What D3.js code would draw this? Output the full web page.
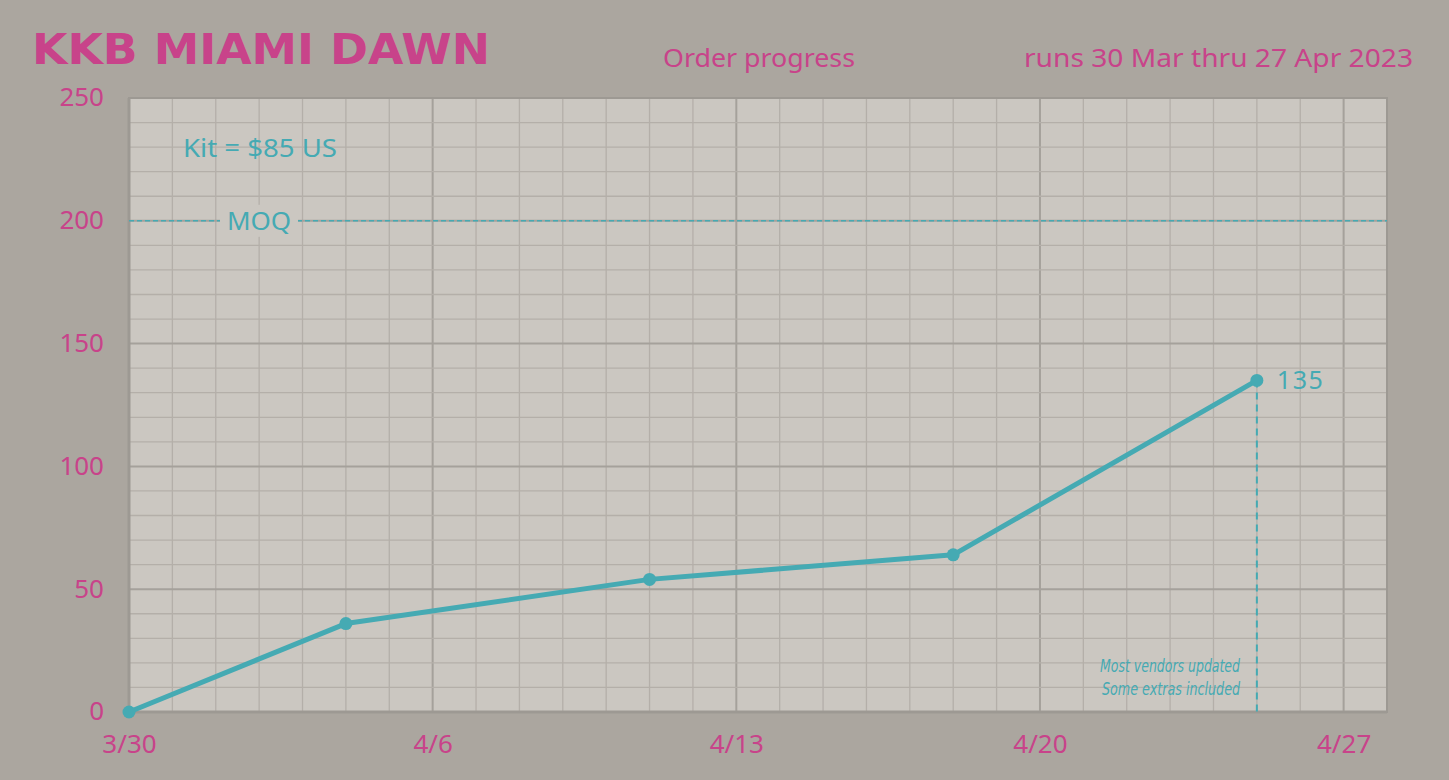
<!DOCTYPE html>
<html>
<head>
<meta charset="utf-8">
<script src="https://cdn.jsdelivr.net/npm/d3@7"></script>
<style>
  body { margin: 0; background: #aba69f; }
  svg { display: block; }
</style>
</head>
<body>
<svg width="1449" height="780"></svg>
<script>
// data
var dates = ["2023-03-30", "2023-04-04", "2023-04-11", "2023-04-18", "2023-04-25"];
var orders = [0, 36, 54, 64, 135];
var xTickDates = ["2023-03-30", "2023-04-06", "2023-04-13", "2023-04-20", "2023-04-27"];
var xTickLabels = ["3/30", "4/6", "4/13", "4/20", "4/27"];
var yTicks = [0, 50, 100, 150, 200, 250];
var moq = 200;

var pink = "#c8438a";
var teal = "#45aab3";
var plotBg = "#cbc7c1";

(function () {
  var svg = d3.select("svg");
  var parse = d3.timeParse("%Y-%m-%d");
  var data = dates.map(function (d, i) { return { date: parse(d), value: orders[i] }; });

  var pLeft = 129, pRight = 1387, pTop = 98, pBottom = 712;
  var start = parse("2023-03-30");

  var x = d3.scaleTime([start, parse("2023-04-28")], [pLeft, pRight]);
  var y = d3.scaleLinear([0, 250], [pBottom, pTop]);

  svg.append("rect").attr("width", 1449).attr("height", 780).attr("fill", "#aba69f");
  svg.append("rect")
    .attr("x", pLeft).attr("y", pTop)
    .attr("width", pRight - pLeft).attr("height", pBottom - pTop)
    .attr("fill", plotBg);

  // grid: minor daily / every 10, major weekly / every 50
  var days = d3.timeDay.range(parse("2023-03-31"), parse("2023-04-28"));
  function isWeek(d) { return d3.timeDay.count(start, d) % 7 === 0; }
  svg.append("g").selectAll("line").data(days).join("line")
    .attr("x1", function (d) { return x(d); }).attr("x2", function (d) { return x(d); })
    .attr("y1", pTop).attr("y2", pBottom)
    .attr("stroke", function (d) { return isWeek(d) ? "#a5a19b" : "#b4afa9"; })
    .attr("stroke-width", function (d) { return isWeek(d) ? 2 : 1.3; });

  svg.append("g").selectAll("line").data(d3.range(10, 250, 10)).join("line")
    .attr("x1", pLeft).attr("x2", pRight)
    .attr("y1", function (d) { return y(d); }).attr("y2", function (d) { return y(d); })
    .attr("stroke", function (d) { return d % 50 === 0 ? "#a5a19b" : "#b4afa9"; })
    .attr("stroke-width", function (d) { return d % 50 === 0 ? 2 : 1.3; });

  svg.append("rect")
    .attr("x", pLeft).attr("y", pTop)
    .attr("width", pRight - pLeft).attr("height", pBottom - pTop)
    .attr("fill", "none").attr("stroke", "#9d9993").attr("stroke-width", 2);
  svg.append("line").attr("x1", pLeft).attr("x2", pLeft).attr("y1", pTop).attr("y2", pBottom)
    .attr("stroke", "#9d9993").attr("stroke-width", 3);
  svg.append("line").attr("x1", pLeft).attr("x2", pRight).attr("y1", pBottom).attr("y2", pBottom)
    .attr("stroke", "#9d9993").attr("stroke-width", 3);

  // axes
  var yAxis = d3.axisLeft(y).tickValues(yTicks).tickSize(0).tickPadding(25);
  svg.append("g").attr("transform", "translate(" + pLeft + ",0)").call(yAxis)
    .call(function (g) { g.select(".domain").remove(); })
    .selectAll("text")
    .attr("fill", pink).attr("font-family", "'Noto Sans', sans-serif").attr("font-size", 26)
    .attr("dy", "0.3em");

  var xAxis = d3.axisBottom(x).tickValues(xTickDates.map(parse)).tickSize(0).tickPadding(23)
    .tickFormat(function (d, i) { return xTickLabels[i]; });
  svg.append("g").attr("transform", "translate(0," + pBottom + ")").call(xAxis)
    .call(function (g) { g.select(".domain").remove(); })
    .selectAll("text")
    .attr("fill", pink).attr("font-family", "'Noto Sans', sans-serif").attr("font-size", 26);

  // MOQ line
  svg.append("line")
    .attr("x1", pLeft).attr("x2", pRight).attr("y1", y(moq)).attr("y2", y(moq))
    .attr("stroke", teal).attr("stroke-width", 1.5).attr("stroke-dasharray", "5,3");
  svg.append("rect").attr("x", 220).attr("y", y(moq) - 16).attr("width", 78).attr("height", 32).attr("fill", plotBg);
  svg.append("text").attr("x", 259).attr("y", y(moq) + 9).attr("text-anchor", "middle")
    .attr("fill", teal).attr("font-family", "'Noto Sans', sans-serif").attr("font-size", 26)
    .text("MOQ");

  // last point drop line
  var last = data[data.length - 1];
  svg.append("line")
    .attr("x1", x(last.date)).attr("x2", x(last.date)).attr("y1", y(last.value)).attr("y2", pBottom)
    .attr("stroke", teal).attr("stroke-width", 2).attr("stroke-dasharray", "7,5");

  // series
  var line = d3.line().x(function (d) { return x(d.date); }).y(function (d) { return y(d.value); });
  svg.append("path").datum(data).attr("d", line)
    .attr("fill", "none").attr("stroke", teal).attr("stroke-width", 5).attr("stroke-linejoin", "round");
  svg.append("g").selectAll("circle").data(data).join("circle")
    .attr("cx", function (d) { return x(d.date); }).attr("cy", function (d) { return y(d.value); })
    .attr("r", 6.5).attr("fill", teal);

  svg.append("text").attr("x", x(last.date) + 20).attr("y", y(last.value) + 9)
    .attr("fill", teal).attr("font-family", "'Noto Sans', sans-serif").attr("font-size", 25)
    .attr("textLength", 46)
    .text(last.value);

  // notes
  svg.append("text").attr("x", 183).attr("y", 157)
    .attr("fill", teal).attr("font-family", "'Noto Sans', sans-serif").attr("font-size", 25)
    .attr("textLength", 154).attr("lengthAdjust", "spacingAndGlyphs")
    .text("Kit = $85 US");

  var notes = ["Most vendors updated", "Some extras included"];
  svg.append("g").selectAll("text").data(notes).join("text")
    .attr("x", 1240).attr("y", function (d, i) { return 672 + i * 23; })
    .attr("text-anchor", "end").attr("fill", teal)
    .attr("font-family", "'Liberation Sans Narrow', 'DejaVu Sans Condensed', sans-serif")
    .attr("font-style", "italic").attr("font-size", 17)
    .attr("textLength", function (d, i) { return i === 0 ? 140 : 138; })
    .attr("lengthAdjust", "spacingAndGlyphs")
    .text(function (d) { return d; });

  // header
  svg.append("text").attr("x", 32).attr("y", 64)
    .attr("fill", pink).attr("font-family", "'DejaVu Sans', sans-serif").attr("font-weight", "bold")
    .attr("font-size", 42).attr("textLength", 458).attr("lengthAdjust", "spacingAndGlyphs")
    .text("KKB MIAMI DAWN");
  svg.append("text").attr("x", 663).attr("y", 67)
    .attr("fill", pink).attr("font-family", "'Noto Sans', sans-serif").attr("font-size", 25)
    .attr("textLength", 192).attr("lengthAdjust", "spacingAndGlyphs")
    .text("Order progress");
  svg.append("text").attr("x", 1413).attr("y", 67).attr("text-anchor", "end")
    .attr("fill", pink).attr("font-family", "'Noto Sans', sans-serif").attr("font-size", 25)
    .attr("textLength", 389).attr("lengthAdjust", "spacingAndGlyphs")
    .text("runs 30 Mar thru 27 Apr 2023");
})();
</script>
</body>
</html>
